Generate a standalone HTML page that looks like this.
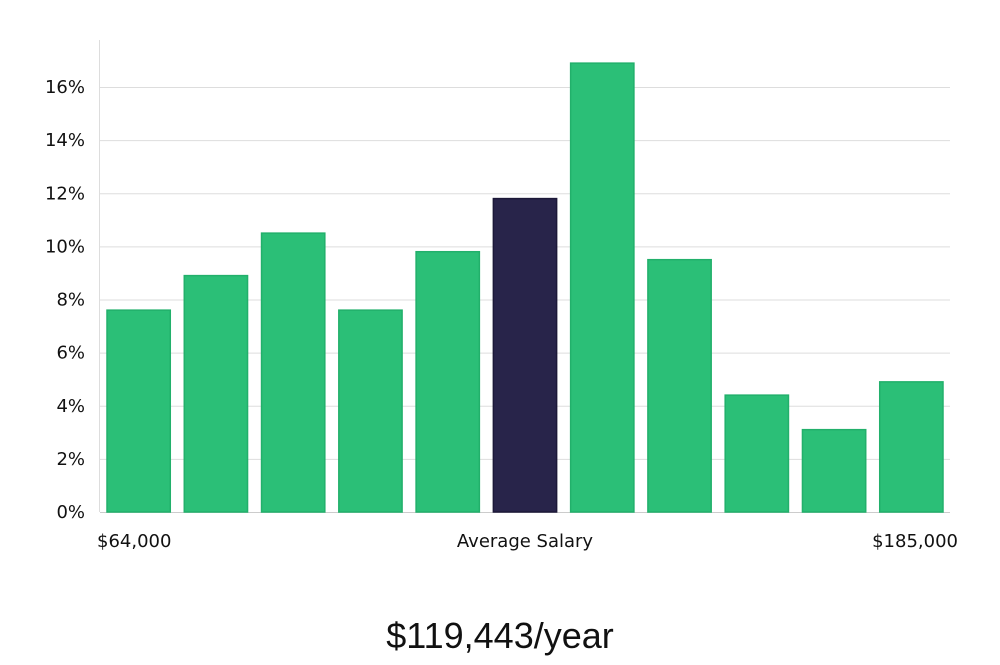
<!DOCTYPE html>
<html><head><meta charset="utf-8"><style>
body{margin:0;background:#fff;width:1000px;height:660px;overflow:hidden}
svg text{font-family:"DejaVu Sans","Liberation Sans",sans-serif}
</style></head><body>
<svg id="chart" width="1000" height="660" xmlns="http://www.w3.org/2000/svg">
<g id="grid"></g>
<g id="yticks"></g>
<line x1="99.5" y1="40" x2="99.5" y2="512" stroke="#ddd"/>
<g id="bars"></g>
<text x="97" y="547" font-size="18" fill="#111">$64,000</text>
<text x="525" y="547" font-size="18" fill="#111" text-anchor="middle">Average Salary</text>
<text x="958" y="547" font-size="18" fill="#111" text-anchor="end">$185,000</text>
<text x="500" y="648" font-size="36" fill="#111" text-anchor="middle" style="font-family:'Liberation Sans',sans-serif;font-weight:300">$119,443/year</text>
</svg>
<script>
const values=[7.6,8.9,10.5,7.6,9.8,11.8,16.9,9.5,4.4,3.1,4.9];
const highlight=[false,false,false,false,false,true,false,false,false,false,false];
const yTicks=[0,2,4,6,8,10,12,14,16];
const tickLabels=["0%","2%","4%","6%","8%","10%","12%","14%","16%"];
const NS="http://www.w3.org/2000/svg";
const x0=100,x1=950,y0=512,pxPer=26.56;
const y=v=>y0-v*pxPer;
const band=(x1-x0)/values.length;
const g=document.getElementById('grid'),yt=document.getElementById('yticks'),b=document.getElementById('bars');
yTicks.forEach((t,i)=>{
 const l=document.createElementNS(NS,'line');
 
 
 l.setAttribute('x1',x0);l.setAttribute('x2',x1);l.setAttribute('y1',y(t)+0.5);l.setAttribute('y2',y(t)+0.5);
 l.setAttribute('stroke',t===0?'#ccc':'#ddd');g.appendChild(l);
 const tx=document.createElementNS(NS,'text');
 
 
 tx.setAttribute('x',85);tx.setAttribute('y',y(t)+6);tx.setAttribute('text-anchor','end');
 tx.setAttribute('font-size','18');tx.setAttribute('fill','#111');tx.textContent=tickLabels[i];yt.appendChild(tx);
});
values.forEach((v,i)=>{
 const r=document.createElementNS(NS,'rect');
 
 
 const bx=x0+i*band+7;
 r.setAttribute('x',bx);r.setAttribute('width',band-14);
 r.setAttribute('y',y(v));r.setAttribute('height',y0-y(v));
 r.setAttribute('fill',highlight[i]?'#28244a':'#2bbf77');
 r.setAttribute('stroke',highlight[i]?'#1c1838':'#22b06b');r.setAttribute('stroke-width','1.5');
 b.appendChild(r);
});
</script>
</body></html>
